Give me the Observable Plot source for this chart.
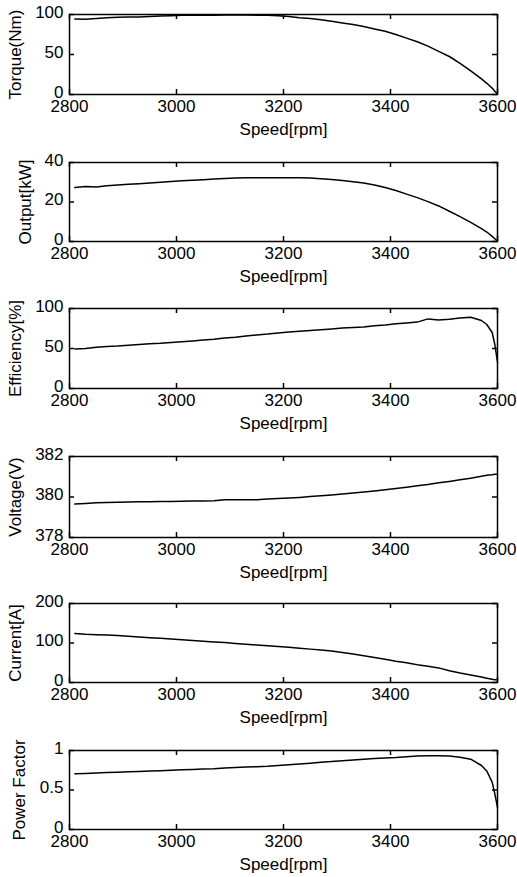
<!DOCTYPE html>
<html><head><meta charset="utf-8">
<script src="https://cdn.jsdelivr.net/npm/d3@7"></script>
<script src="https://cdn.jsdelivr.net/npm/@observablehq/plot@0.6"></script>
<style>
body{margin:0;background:#fff;}
#wrap{position:relative;width:517px;height:877px;overflow:hidden;background:#fff;}
#wrap svg{position:absolute;left:0;}
</style></head><body><div id="wrap"></div>
<script>
const speed = [2810,2830,2850,2870,2890,2910,2930,2950,2970,2990,3010,3030,3050,3070,3090,3110,3130,3150,3170,3190,3210,3230,3250,3270,3290,3310,3330,3350,3370,3390,3410,3430,3450,3470,3490,3510,3530,3550,3570,3580,3590,3595,3600];
const torque = [94.5,94,95,96,96.5,97,97,97.5,98,98.5,99,99,99,99.2,99.3,99.3,99.3,99.2,99,98.5,97.5,96,95,93.5,91.5,89.5,87.5,85,82,79,75,70.5,66,60.5,54,47.5,39,29.5,19.5,14,8,4,0.5];
const output = [27.3,27.8,27.6,28.2,28.6,29.0,29.3,29.6,30.0,30.4,30.8,31.0,31.3,31.6,31.9,32.1,32.3,32.3,32.3,32.3,32.3,32.3,32.1,31.8,31.4,30.9,30.3,29.6,28.6,27.3,25.8,24.0,22.2,20.2,18.0,15.3,12.6,9.7,6.5,4.8,2.6,1.4,0.2];
const efficiency = [49.5,50,51.5,52.5,53,54,55,55.8,56.5,57.5,58.5,59.5,60.5,61.5,63,64,65.5,67,68,69.5,70.5,71.5,72.5,73.5,74.5,75.5,76.3,77,78.5,79.5,81,82,83,87,85.5,86.5,88,89,85,80,70,55,33];
const voltage = [379.65,379.68,379.72,379.73,379.74,379.75,379.77,379.76,379.78,379.78,379.79,379.8,379.8,379.82,379.86,379.87,379.86,379.87,379.9,379.92,379.95,379.98,380.02,380.06,380.1,380.15,380.2,380.25,380.3,380.36,380.42,380.48,380.55,380.62,380.7,380.77,380.85,380.93,381.02,381.07,381.1,381.12,381.12];
const current = [124,122,121,120,119,117,115,113.5,112,110,108,106.5,104.5,102.5,101,99,97,95,93,91,89,87,84.5,82,79.5,76,72,68,63.5,59,54,50,45,41,37,30,24,19,14,11,8,7,7];
const powerFactor = [0.705,0.71,0.715,0.72,0.725,0.73,0.735,0.74,0.745,0.75,0.755,0.76,0.765,0.77,0.78,0.785,0.79,0.795,0.8,0.81,0.82,0.83,0.84,0.85,0.86,0.87,0.88,0.89,0.9,0.905,0.91,0.92,0.93,0.935,0.935,0.93,0.915,0.89,0.81,0.74,0.6,0.45,0.28];

const xTicks = [2800,3000,3200,3400,3600];
const yLabels = ["Torque(Nm)","Output[kW]","Efficiency[%]","Voltage(V)","Current[A]","Power Factor"];
const yDomains = [[0,100],[0,40],[0,100],[378,382],[0,200],[0,1]];
const yTicks = [[0,50,100],[0,20,40],[0,50,100],[378,380,382],[0,100,200],[0,0.5,1]];
const series = [torque, output, efficiency, voltage, current, powerFactor];

// layout (pixels)
const W = 517, ML = 69, MR = 20;
const tops = [14,162,308,456,603,750];
const bottoms = [94,241,388,537,682,829];
const labelOffsets = [61,51,61,61,61,57];
const TICK = 5; // inward tick length, px

const wrap = document.getElementById("wrap");
const fmt = d => String(d);
series.forEach((vals, k) => {
  const data = speed.map((s, i) => ({s, v: vals[i]}));
  const mt = 12, mb = 46;
  const h = bottoms[k] - tops[k];
  const pw = W - ML - MR;
  const [y0, y1] = yDomains[k];
  const dyv = (y1 - y0) * TICK / h;       // tick length in y units
  const dxv = (3600 - 2800) * TICK / pw;  // tick length in x units
  const svg = Plot.plot({
    width: W, height: mt + h + mb,
    marginTop: mt, marginBottom: mb, marginLeft: ML, marginRight: MR,
    style: {fontFamily: "'Liberation Sans', Arial, sans-serif", fontSize: "17px", color: "black", background: "transparent", overflow: "visible"},
    x: {domain: [2800, 3600]},
    y: {domain: yDomains[k]},
    marks: [
      Plot.axisX({ticks: xTicks, anchor: "bottom", tickSize: 0, tickPadding: 5, tickFormat: fmt, label: "Speed[rpm]", labelAnchor: "center", labelArrow: "none", labelOffset: 40}),
      Plot.axisY({ticks: yTicks[k], anchor: "left", tickSize: 0, tickPadding: 6, dy: -2, tickFormat: fmt, label: yLabels[k], labelAnchor: "center", labelArrow: "none", labelOffset: labelOffsets[k]}),
      Plot.ruleX(xTicks, {x: d => d, y1: y0, y2: y0 + dyv, stroke: "black", strokeWidth: 1.5}),
      Plot.ruleX(xTicks, {x: d => d, y1: y1 - dyv, y2: y1, stroke: "black", strokeWidth: 1.5}),
      Plot.ruleY(yTicks[k], {y: d => d, x1: 2800, x2: 2800 + dxv, stroke: "black", strokeWidth: 1.5}),
      Plot.ruleY(yTicks[k], {y: d => d, x1: 3600 - dxv, x2: 3600, stroke: "black", strokeWidth: 1.5}),
      Plot.line(data, {x: "s", y: "v", stroke: "black", strokeWidth: 1.5}),
      Plot.frame({stroke: "black", strokeWidth: 1.5})
    ]
  });
  svg.style.top = (tops[k] - mt) + "px";
  wrap.appendChild(svg);
});
</script></body></html>
